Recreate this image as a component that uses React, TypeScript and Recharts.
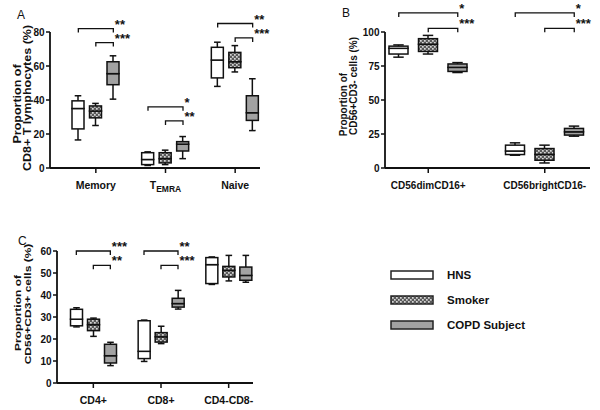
import React from "react";
import { ComposedChart, Bar, XAxis, YAxis, ReferenceLine, Legend, Label } from "recharts";

const FONT = "'Liberation Sans', Arial, Helvetica, sans-serif";

const seriesNames = ["HNS", "Smoker", "COPD Subject"];
const seriesKeys = ["hns", "smoker", "copd"];
const parts = ["base", "lw", "lb", "ub", "uw"];

// every box is [min, q1, median, q3, max]
const catsA = ["Memory", "TEMRA", "Naive"];
const hnsA = [[16.5, 23, 35, 39.5, 42.5], [1.5, 2, 5, 9, 9.5], [48, 53, 63.5, 71, 74]];
const smokerA = [[25, 29.5, 33.5, 36.5, 38], [2, 3, 5.5, 9, 10.5], [56.5, 59, 62.5, 68, 72]];
const copdA = [[40.5, 49, 55.5, 62.5, 66], [5.5, 10, 14, 15.5, 18.5], [22, 28, 32.5, 42.5, 52.5]];
const ticksA = [0, 20, 40, 60, 80];
const bracketsA = [
  { cat: "Memory", from: 0, to: 2, y: 82, text: "**" },
  { cat: "Memory", from: 1, to: 2, y: 73.8, text: "***" },
  { cat: "TEMRA", from: 0, to: 2, y: 36, text: "*" },
  { cat: "TEMRA", from: 1, to: 2, y: 27.7, text: "**" },
  { cat: "Naive", from: 0, to: 2, y: 85, text: "**" },
  { cat: "Naive", from: 1, to: 2, y: 76.5, text: "***" },
];

const catsB = ["CD56dimCD16+", "CD56brightCD16-"];
const hnsB = [[81.5, 83.8, 88, 89.6, 90.5], [9.4, 9.9, 12.5, 16.8, 18.5]];
const smokerB = [[83.8, 85.7, 91, 95.1, 97.5], [3.7, 5.7, 10, 14.3, 16.8]];
const copdB = [[70.2, 71, 74, 76.5, 77.5], [23.4, 24.2, 26.6, 29.1, 30.8]];
const ticksB = [0, 25, 50, 75, 100];
const bracketsB = [
  { cat: "CD56dimCD16+", from: 0, to: 2, y: 114, text: "*" },
  { cat: "CD56dimCD16+", from: 1, to: 2, y: 102.7, text: "***" },
  { cat: "CD56brightCD16-", from: 0, to: 2, y: 114, text: "*" },
  { cat: "CD56brightCD16-", from: 1, to: 2, y: 102.7, text: "***" },
];

const catsC = ["CD4+", "CD8+", "CD4-CD8-"];
const hnsC = [[25.5, 26, 29, 33.5, 34.2], [9.8, 11.1, 14.4, 28.3, 28.6], [44.8, 45.2, 53.8, 57, 57.3]];
const smokerC = [[21.2, 23.8, 26.5, 29, 29.5], [17.9, 18.6, 21, 22.9, 25.8], [46.4, 48.2, 51.2, 53, 58]];
const copdC = [[7.9, 9.1, 12.4, 17.6, 18.5], [33.6, 34.5, 36.1, 38.5, 42.1], [45.8, 46.7, 48.9, 52.7, 58]];
const ticksC = [0, 10, 20, 30, 40, 50, 60];
const bracketsC = [
  { cat: "CD4+", from: 0, to: 2, y: 60, text: "***" },
  { cat: "CD4+", from: 1, to: 2, y: 53.5, text: "**" },
  { cat: "CD8+", from: 0, to: 2, y: 60, text: "**" },
  { cat: "CD8+", from: 1, to: 2, y: 53.5, text: "***" },
];

function buildRows(cats: string[], boxes: number[][][]) {
  return cats.map((cat, i) => {
    const row: any = { cat };
    boxes.forEach((series, s) => {
      const [mn, q1, md, q3, mx] = series[i];
      const k = seriesKeys[s];
      row[k + "_base"] = mn;
      row[k + "_lw"] = q1 - mn;
      row[k + "_lb"] = md - q1;
      row[k + "_ub"] = q3 - md;
      row[k + "_uw"] = mx - q3;
    });
    return row;
  });
}

const fillFor = (s: number, id: string) =>
  s === 0 ? "#ffffff" : s === 1 ? `url(#hatch${id})` : "#a2a2a2";

const partShape = (part: string, fill: string) => (p: any) => {
  const { x, y, width, height } = p;
  if (part === "base" || width == null) return <g />;
  const cx = x + width / 2;
  const cap = width * 0.55;
  if (part === "lw" || part === "uw") {
    const cy = part === "lw" ? y + height : y;
    return (
      <g stroke="#111" strokeWidth={1.5}>
        <line x1={cx} x2={cx} y1={y} y2={y + height} />
        <line x1={cx - cap / 2} x2={cx + cap / 2} y1={cy} y2={cy} />
      </g>
    );
  }
  return <rect x={x} y={y} width={width} height={height} fill={fill} stroke="#111" strokeWidth={1.5} />;
};

const bracketShape = (b: any, step: number) => (p: any) => {
  const cx = p.x1;
  const y = p.y1;
  const xa = cx + (b.from - 1) * step;
  const xb = cx + (b.to - 1) * step;
  return (
    <g>
      <path d={`M${xa},${y + 4}V${y}H${xb}V${y + 4}`} fill="none" stroke="#111" strokeWidth={1.3} />
      <text x={xb + 1.5} y={y} fontSize={13} fontWeight="bold" fontFamily={FONT} fill="#111">
        {b.text}
      </text>
    </g>
  );
};

const XTick = (fontSize: number) => (p: any) => {
  const { x, y, payload } = p;
  const v = payload.value;
  return (
    <text x={x} y={y} dy="0.71em" textAnchor="middle" fontSize={fontSize} fontWeight="bold" fontFamily={FONT} fill="#111">
      {v === "TEMRA" ? (
        <>
          <tspan>T</tspan>
          <tspan fontSize={8.5} dy={3}>EMRA</tspan>
        </>
      ) : (
        v
      )}
    </text>
  );
};

const titleContent = (t: any) => () => (
  <g fontFamily={FONT} fill="#111">
    <text x={t.letter[0]} y={t.letter[1]} fontSize={12}>
      {t.letter[2]}
    </text>
    {t.lines.map((l: any, i: number) => (
      <text
        key={i}
        transform={`translate(${l.x},${l.y}) scale(${t.squash},1) rotate(-90)`}
        textAnchor="middle"
        fontSize={t.size}
        fontWeight="bold"
      >
        {l.text}
      </text>
    ))}
  </g>
);

const LegendBox = () => (
  <div style={{ fontFamily: FONT, fontWeight: "bold", fontSize: 11.5, color: "#111" }}>
    {seriesNames.map((n, s) => (
      <div key={n} style={{ display: "flex", alignItems: "center", height: 25 }}>
        <svg width={44} height={10}>
          <rect x={1} y={1} width={42} height={8} fill={fillFor(s, "C")} stroke="#222" strokeWidth={1.5} />
        </svg>
        <span style={{ marginLeft: 13 }}>{n}</span>
      </div>
    ))}
  </div>
);

function Panel(props: any) {
  const { id, cats, boxes, ticks, brackets, width, height, margin, yWidth, xHeight, padding, barSize, gap, title, xFont, legend } = props;
  const rows = buildRows(cats, boxes);
  const axisStyle = { stroke: "#111", strokeWidth: 1.8 };
  return (
    <ComposedChart width={width} height={height} data={rows} margin={margin} barGap={gap}>
      <defs>
        <pattern id={`hatch${id}`} width={4} height={4} patternUnits="userSpaceOnUse">
          <rect width={4} height={4} fill="#5a5a5a" />
          <rect width={1.7} height={1.7} fill="#d6d6d6" />
          <rect x={2} y={2} width={1.7} height={1.7} fill="#d6d6d6" />
        </pattern>
      </defs>
      <XAxis
        dataKey="cat"
        interval={0}
        height={xHeight}
        padding={padding}
        axisLine={axisStyle}
        tickLine={{ stroke: "#111", strokeWidth: 1.5 }}
        tickSize={5}
        tickMargin={9}
        tick={XTick(xFont)}
      />
      <YAxis
        width={yWidth}
        domain={[ticks[0], ticks[ticks.length - 1]]}
        ticks={ticks}
        interval={0}
        axisLine={axisStyle}
        tickLine={{ stroke: "#111", strokeWidth: 1.5 }}
        tickSize={4}
        tickMargin={1.5}
        tick={{ fontSize: 10, fontWeight: "bold", fill: "#111", fontFamily: FONT }}
      >
        <Label content={titleContent(title)} />
      </YAxis>
      {seriesKeys.map((k, s) =>
        parts.map((part) => (
          <Bar
            key={k + part}
            dataKey={k + "_" + part}
            stackId={k}
            barSize={barSize}
            isAnimationActive={false}
            shape={partShape(part, fillFor(s, id))}
          />
        ))
      )}
      {brackets.map((b: any, i: number) => (
        <ReferenceLine
          key={"br" + i}
          segment={[{ x: b.cat, y: b.y }, { x: b.cat, y: b.y }]}
          ifOverflow="visible"
          shape={bracketShape(b, barSize + gap)}
        />
      ))}
      {legend && (
        <Legend
          layout="vertical"
          align="center"
          verticalAlign="middle"
          content={() => <LegendBox />}
          wrapperStyle={{ left: 390, top: 62, width: 200 }}
        />
      )}
    </ComposedChart>
  );
}

export default function App() {
  return (
    <div style={{ position: "absolute", left: 0, top: 0, width: 600, height: 410, background: "#fff" }}>
      <div style={{ position: "absolute", left: 0, top: 0 }}>
        <Panel
          id="A"
          cats={catsA}
          boxes={[hnsA, smokerA, copdA]}
          ticks={ticksA}
          brackets={bracketsA}
          width={300}
          height={200}
          margin={{ top: 32, right: 40, bottom: 2, left: 10 }}
          yWidth={40}
          xHeight={30}
          padding={{ left: 11, right: -10 }}
          barSize={12}
          gap={5.5}
          xFont={10.5}
          title={{
            letter: [17, 19, "A"],
            size: 12.5,
            squash: 0.82,
            lines: [
              { x: 21, y: 104, text: "Proportion of" },
              { x: 31, y: 98, text: "CD8+ T lymphocytes (%)" },
            ],
          }}
        />
      </div>
      <div style={{ position: "absolute", left: 300, top: 0 }}>
        <Panel
          id="B"
          cats={catsB}
          boxes={[hnsB, smokerB, copdB]}
          ticks={ticksB}
          brackets={bracketsB}
          width={300}
          height={200}
          margin={{ top: 32, right: 10, bottom: 2, left: 45 }}
          yWidth={40}
          xHeight={30}
          padding={{ left: -15, right: -13 }}
          barSize={19}
          gap={10.5}
          xFont={10}
          title={{
            letter: [42, 17, "B"],
            size: 10,
            squash: 1,
            lines: [
              { x: 46.6, y: 104.5, text: "Proportion of" },
              { x: 56.6, y: 86, text: "CD56+CD3- cells (%)" },
            ],
          }}
        />
      </div>
      <div style={{ position: "absolute", left: 0, top: 200 }}>
        <Panel
          id="C"
          cats={catsC}
          boxes={[hnsC, smokerC, copdC]}
          ticks={ticksC}
          brackets={bracketsC}
          width={600}
          height={210}
          margin={{ top: 51, right: 347, bottom: 0, left: 17 }}
          yWidth={40}
          xHeight={27}
          padding={{ left: 2.5, right: -9.5 }}
          barSize={12}
          gap={5}
          xFont={10.5}
          legend
          title={{
            letter: [18, 45, "C"],
            size: 12,
            squash: 0.82,
            lines: [
              { x: 21, y: 113, text: "Proportion of" },
              { x: 31, y: 104, text: "CD56+CD3+ cells (%)" },
            ],
          }}
        />
      </div>
    </div>
  );
}
